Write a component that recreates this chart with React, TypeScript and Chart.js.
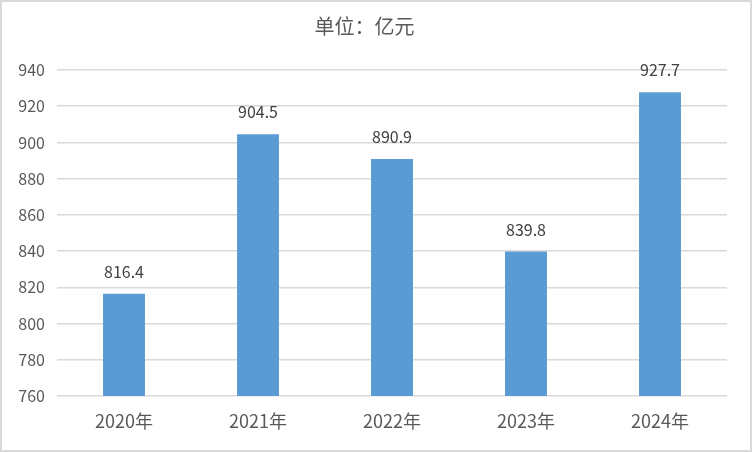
import React, { useEffect, useRef } from "react";
import { Chart, registerables } from "chart.js";

Chart.register(...registerables);

const categories = ["2020年", "2021年", "2022年", "2023年", "2024年"];
const values = [816.4, 904.5, 890.9, 839.8, 927.7];
const yMin = 760;
const yMax = 940;
const yStep = 20;
const titleText = "单位：亿元";

const FONT = "'Noto Sans CJK SC', 'Open Sans', sans-serif";

const labelPlugin = {
  id: "valueLabels",
  afterDatasetsDraw(chart: any) {
    const ctx = chart.ctx;
    const meta = chart.getDatasetMeta(0);
    ctx.save();
    ctx.font = `16px ${FONT}`;
    ctx.fillStyle = "#404040";
    ctx.textAlign = "center";
    ctx.textBaseline = "middle";
    meta.data.forEach((bar: any, i: number) => {
      ctx.fillText(values[i].toFixed(1), bar.x, bar.y - 22);
    });
    ctx.restore();
  },
};

export default function App() {
  const ref = useRef<HTMLCanvasElement>(null);
  useEffect(() => {
    if (!ref.current) return;
    const chart = new Chart(ref.current, {
      type: "bar",
      data: {
        labels: categories,
        datasets: [
          {
            data: values,
            backgroundColor: "#5B9BD5",
            barPercentage: 0.313,
            categoryPercentage: 1,
          },
        ],
      },
      options: {
        animation: false,
        responsive: false,
        layout: { padding: { left: 0, right: 23, top: 0, bottom: 0 } },
        plugins: {
          legend: { display: false },
          tooltip: { enabled: false },
          title: {
            display: true,
            text: titleText,
            color: "#595959",
            font: { family: FONT, size: 20, weight: "normal" },
            padding: { top: 12, bottom: 32 },
          },
        },
        scales: {
          x: {
            grid: { display: false, drawTicks: false },
            border: { display: false },
            ticks: {
              color: "#595959",
              font: { family: FONT, size: 18 },
              padding: 14,
            },
            afterFit: (s: any) => {
              s.height = 54;
            },
          },
          y: {
            min: yMin,
            max: yMax,
            border: { display: false },
            grid: { color: "#d9d9d9", lineWidth: 1.5, drawTicks: false },
            ticks: {
              stepSize: yStep,
              color: "#595959",
              font: { family: FONT, size: 16 },
              padding: 12,
            },
            afterFit: (s: any) => {
              s.width = 55;
            },
          },
        },
      },
      plugins: [labelPlugin],
    });
    return () => chart.destroy();
  }, []);
  return (
    <div
      style={{
        position: "fixed",
        left: 0,
        top: 0,
        width: 752,
        height: 452,
        boxSizing: "border-box",
        border: "2px solid #d9d9d9",
        background: "#fff",
      }}
    >
      <canvas ref={ref} width={748} height={448} style={{ display: "block" }} />
    </div>
  );
}
